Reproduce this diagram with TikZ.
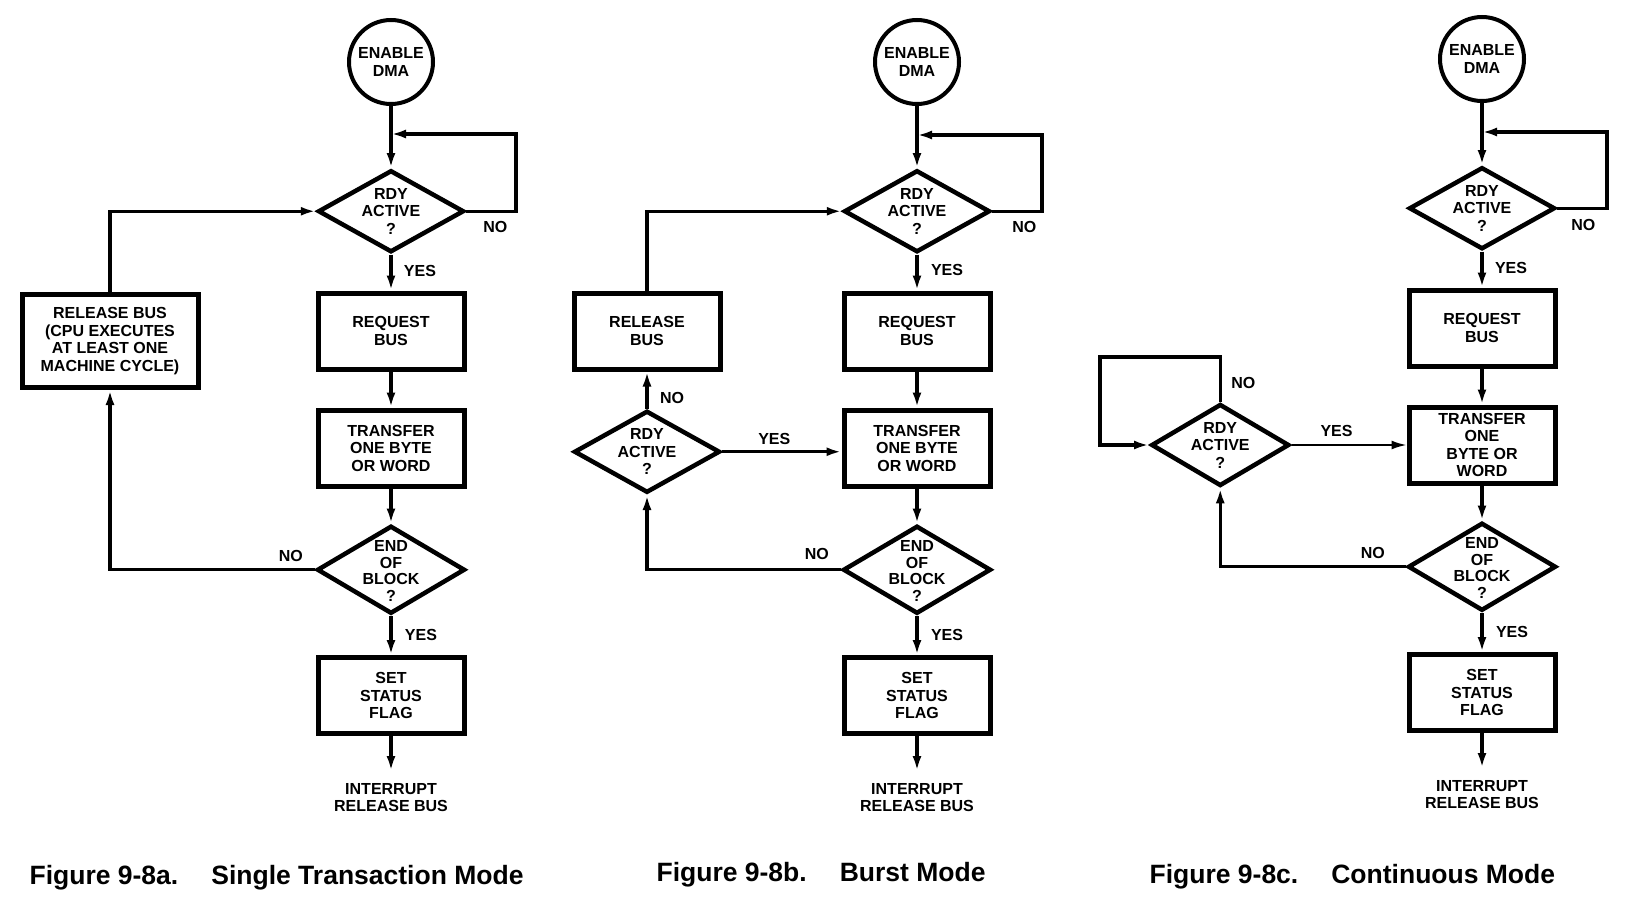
\documentclass[tikz,border=0pt]{standalone}
\usepackage{fontspec}
\setmainfont{Liberation Sans}
\usetikzlibrary{arrows.meta, positioning, shapes.geometric}

\newcommand{\flowfont}{\fontsize{16}{17.5}\selectfont\bfseries}
\newcommand{\blockfont}{\fontsize{16}{16.5}\selectfont\bfseries}
\newcommand{\capfont}{\fontsize{26.5}{30}\selectfont\bfseries}

\begin{document}
\begin{tikzpicture}[
    x=1pt, y=-1pt,
    term/.style={circle, draw, line width=4pt, minimum size=84pt, inner sep=0pt,
                 align=center, font=\flowfont},
    proc/.style={rectangle, draw, line width=5pt, minimum width=146pt,
                 minimum height=76pt, inner sep=2pt, align=center, font=\flowfont},
    decision/.style={diamond, draw, line width=4.5pt, minimum width=146pt,
                 minimum height=82pt, inner sep=0pt},
    dtext/.style={align=center, font=\flowfont, inner sep=0pt},
    btext/.style={align=center, font=\blockfont, inner sep=0pt, yshift=-1pt},
    yn/.style={font=\flowfont, inner sep=0pt},
    endtext/.style={align=center, font=\flowfont, inner sep=0pt, outer ysep=12pt},
    figcap/.style={anchor=west, font=\capfont, inner sep=0pt},
    ->, >={Latex[length=15pt, width=9pt]}, line width=3.2pt,
    node distance=36pt
  ]
  \useasboundingbox (0,0) rectangle (1632,918);

  % nodes, single transaction
  \node[term] (starta) at (391,62) {ENABLE\\DMA};
  \node[decision, below=62pt of starta, label={[dtext]center:{RDY\\ACTIVE\\?}}] (rdya) {};
  \node[proc, below=of rdya] (reqa) {REQUEST\\BUS};
  \node[proc, below=of reqa] (transa) {TRANSFER\\ONE BYTE\\OR WORD};
  \node[decision, minimum width=148pt, minimum height=88pt, below=35pt of transa,
        label={[btext]center:{END\\OF\\BLOCK\\?}}] (eoba) {};
  \node[proc, below=39pt of eoba] (seta) {SET\\STATUS\\FLAG};
  \node[endtext, below=35pt of seta] (enda) {INTERRUPT\\RELEASE BUS};
  \node[proc, minimum width=176pt, minimum height=93pt] (rela) at (110,341)
       {RELEASE BUS\\(CPU EXECUTES\\AT LEAST ONE\\MACHINE CYCLE)};
  \coordinate (loopa) at (516,134);

  % nodes, burst
  \node[term] (startb) at (917,62) {ENABLE\\DMA};
  \node[decision, below=62pt of startb, label={[dtext]center:{RDY\\ACTIVE\\?}}] (rdyb) {};
  \node[proc, below=of rdyb] (reqb) {REQUEST\\BUS};
  \node[proc, below=of reqb] (transb) {TRANSFER\\ONE BYTE\\OR WORD};
  \node[decision, minimum width=148pt, minimum height=88pt, below=35pt of transb,
        label={[btext]center:{END\\OF\\BLOCK\\?}}] (eobb) {};
  \node[proc, below=39pt of eobb] (setb) {SET\\STATUS\\FLAG};
  \node[endtext, below=35pt of setb] (endb) {INTERRUPT\\RELEASE BUS};
  \node[proc, left=119pt of reqb] (relb) {RELEASE\\BUS};
  \node[decision, below=37pt of relb, label={[dtext]center:{RDY\\ACTIVE\\?}}] (rdyb2) {};
  \coordinate (loopb) at (1042,135);

  % nodes, continuous
  \node[term] (startc) at (1482,59) {ENABLE\\DMA};
  \node[decision, below=62pt of startc, label={[dtext]center:{RDY\\ACTIVE\\?}}] (rdyc) {};
  \node[proc, below=of rdyc] (reqc) {REQUEST\\BUS};
  \node[proc, below=of reqc] (transc) {TRANSFER\\ONE\\BYTE OR\\WORD};
  \node[decision, minimum width=148pt, minimum height=88pt, below=35pt of transc,
        label={[btext]center:{END\\OF\\BLOCK\\?}}] (eobc) {};
  \node[proc, below=39pt of eobc] (setc) {SET\\STATUS\\FLAG};
  \node[endtext, below=35pt of setc] (endc) {INTERRUPT\\RELEASE BUS};
  \node[decision, minimum width=138pt, left=115pt of transc,
        label={[dtext]center:{RDY\\ACTIVE\\?}}] (rdyc2) {};
  \coordinate (loopc) at (1607,132);
  \coordinate (selfc) at (1100,357);

  % yes / no
  \node[yn] (noa1) at ([xshift=29pt, yshift=-16pt]rdya.east) {NO};
  \node[yn] (yesa1) at ([xshift=29pt, yshift=-16pt]rdya.south) {YES};
  \node[yn] (noa2) at ([xshift=-24pt, yshift=14pt]eoba.west) {NO};
  \node[yn] (yesa2) at ([xshift=30pt, yshift=-19pt]eoba.south) {YES};

  \node[yn] (nob1) at ([xshift=32pt, yshift=-16pt]rdyb.east) {NO};
  \node[yn] (yesb1) at ([xshift=30pt, yshift=-15pt]rdyb.south) {YES};
  \node[yn] (nob3) at ([xshift=25pt, yshift=11pt]rdyb2.north) {NO};
  \node[yn] (yesb3) at ([xshift=52pt, yshift=13pt]rdyb2.east) {YES};
  \node[yn] (nob2) at ([xshift=-24pt, yshift=16pt]eobb.west) {NO};
  \node[yn] (yesb2) at ([xshift=30pt, yshift=-19pt]eobb.south) {YES};

  \node[yn] (noc1) at ([xshift=26pt, yshift=-17pt]rdyc.east) {NO};
  \node[yn] (yesc1) at ([xshift=29pt, yshift=-16pt]rdyc.south) {YES};
  \node[yn] (noc3) at ([xshift=23pt, yshift=19pt]rdyc2.north) {NO};
  \node[yn] (yesc3) at ([xshift=45pt, yshift=14pt]rdyc2.east) {YES};
  \node[yn] (noc2) at ([xshift=-33pt, yshift=14pt]eobc.west) {NO};
  \node[yn] (yesc2) at ([xshift=30pt, yshift=-19pt]eobc.south) {YES};

  % captions
  \node[figcap] (capa) at (28,878) {Figure 9-8a.\hspace{33pt}Single Transaction Mode};
  \node[figcap] (capb) at (655,875) {Figure 9-8b.\hspace{33pt}Burst Mode};
  \node[figcap] (capc) at (1148,877) {Figure 9-8c.\hspace{33pt}Continuous Mode};

  % arcs, single transaction
  \draw (starta) -- (rdya);
  \draw (rdya) -- (reqa);
  \draw (reqa) -- (transa);
  \draw (transa) -- (eoba);
  \draw (eoba) -- (seta);
  \draw (seta) -- (enda);
  \draw (rdya.east) -| (loopa) -- (loopa -| starta.south);
  \draw (eoba.west) -| (rela.south);
  \draw (rela.north) |- (rdya.west);

  % arcs, burst
  \draw (startb) -- (rdyb);
  \draw (rdyb) -- (reqb);
  \draw (reqb) -- (transb);
  \draw (transb) -- (eobb);
  \draw (eobb) -- (setb);
  \draw (setb) -- (endb);
  \draw (rdyb.east) -| (loopb) -- (loopb -| startb.south);
  \draw (relb.north) |- (rdyb.west);
  \draw (rdyb2) -- (relb);
  \draw (rdyb2.east) -- (rdyb2.east -| transb.west);
  \draw (eobb.west) -| (rdyb2.south);

  % arcs, continuous
  \draw (startc) -- (rdyc);
  \draw (rdyc) -- (reqc);
  \draw (reqc) -- (transc);
  \draw (transc) -- (eobc);
  \draw (eobc) -- (setc);
  \draw (setc) -- (endc);
  \draw (rdyc.east) -| (loopc) -- (loopc -| startc.south);
  \draw (rdyc2.north) |- (selfc) |- (rdyc2.west);
  \draw[line width=2pt] (rdyc2.east) -- (transc.west);
  \draw (eobc.west) -| (rdyc2.south);
\end{tikzpicture}
\end{document}
